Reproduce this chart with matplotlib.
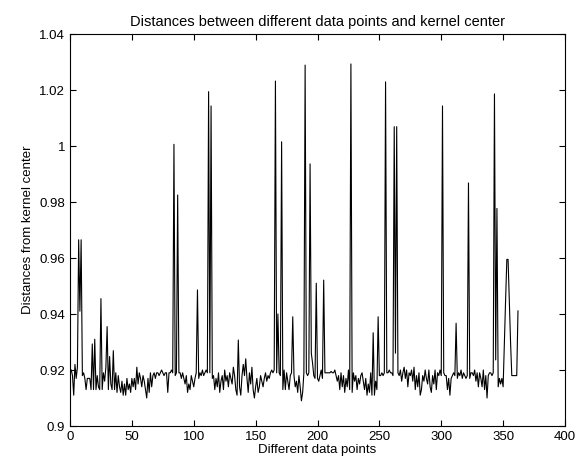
# -*- coding: utf-8 -*-
import matplotlib
matplotlib.use('Agg')
import matplotlib.pyplot as plt
import numpy as np

plt.rcParams['font.family'] = ['Liberation Sans', 'DejaVu Sans']

# distance of each data point (1..362) to the kernel center
distances = [
    0.920, 0.918, 0.911, 0.922, 0.917, 0.921, 0.9665, 0.941, 0.9665, 0.918,
    0.919, 0.917, 0.913, 0.917, 0.917, 0.917, 0.913, 0.9293, 0.913, 0.931,
    0.913, 0.918, 0.914, 0.913, 0.9455, 0.913, 0.919, 0.916, 0.921, 0.9355,
    0.913, 0.9248, 0.915, 0.913, 0.9269, 0.913, 0.919, 0.912, 0.918, 0.914,
    0.912, 0.916, 0.911, 0.915, 0.911, 0.917, 0.913, 0.915, 0.912, 0.917,
    0.914, 0.917, 0.913, 0.921, 0.915, 0.919, 0.917, 0.914, 0.918, 0.916,
    0.913, 0.910, 0.917, 0.912, 0.919, 0.914, 0.918, 0.919, 0.917, 0.919,
    0.919, 0.918, 0.919, 0.920, 0.919, 0.918, 0.919, 0.919, 0.912, 0.919,
    0.919, 0.920, 0.919, 1.0006, 0.918, 0.919, 0.9825, 0.919, 0.919, 0.917,
    0.919, 0.917, 0.915, 0.918, 0.912, 0.915, 0.913, 0.918, 0.916, 0.914,
    0.917, 0.919, 0.9486, 0.917, 0.919, 0.918, 0.920, 0.918, 0.919, 0.920,
    0.919, 1.0194, 0.919, 1.0143, 0.917, 0.918, 0.913, 0.917, 0.914, 0.919,
    0.912, 0.916, 0.918, 0.913, 0.920, 0.916, 0.918, 0.914, 0.919, 0.917,
    0.915, 0.921, 0.918, 0.913, 0.911, 0.9307, 0.914, 0.911, 0.918, 0.922,
    0.918, 0.924, 0.917, 0.912, 0.919, 0.915, 0.921, 0.913, 0.910, 0.914,
    0.917, 0.912, 0.914, 0.918, 0.916, 0.914, 0.917, 0.919, 0.916, 0.918,
    0.917, 0.919, 0.920, 0.919, 0.920, 1.0232, 0.919, 0.940, 0.919, 0.918,
    1.0015, 0.913, 0.920, 0.913, 0.919, 0.916, 0.913, 0.918, 0.919, 0.939,
    0.918, 0.914, 0.916, 0.912, 0.918, 0.914, 0.909, 0.912, 0.919, 1.0289,
    0.919, 0.918, 0.919, 0.9936, 0.926, 0.9225, 0.918, 0.917, 0.951, 0.917,
    0.916, 0.918, 0.920, 0.917, 0.9521, 0.919, 0.919, 0.919, 0.919, 0.919,
    0.9195, 0.919, 0.919, 0.920, 0.918, 0.916, 0.918, 0.913, 0.919, 0.914,
    0.918, 0.912, 0.917, 0.914, 0.920, 0.913, 1.0293, 0.912, 0.919, 0.916,
    0.918, 0.913, 0.917, 0.915, 0.918, 0.919, 0.916, 0.913, 0.917, 0.911,
    0.915, 0.912, 0.919, 0.911, 0.9333, 0.911, 0.916, 0.913, 0.939, 0.918,
    0.918, 0.919, 0.918, 0.919, 1.0229, 0.919, 0.919, 0.920, 0.919, 0.919,
    0.918, 1.0069, 0.926, 1.0069, 0.919, 0.918, 0.920, 0.916, 0.919, 0.921,
    0.917, 0.920, 0.914, 0.919, 0.918, 0.920, 0.916, 0.921, 0.913, 0.918,
    0.914, 0.919, 0.911, 0.913, 0.918, 0.916, 0.920, 0.917, 0.915, 0.920,
    0.914, 0.912, 0.918, 0.915, 0.920, 0.913, 0.919, 0.918, 0.920, 0.918,
    1.0143, 0.919, 0.918, 0.918, 0.913, 0.917, 0.911, 0.917, 0.918, 0.919,
    0.918, 0.9367, 0.917, 0.919, 0.918, 0.920, 0.917, 0.919, 0.918, 0.917,
    0.918, 0.9868, 0.917, 0.919, 0.919, 0.918, 0.920, 0.916, 0.919, 0.914,
    0.919, 0.917, 0.914, 0.920, 0.913, 0.918, 0.910, 0.918, 0.919, 0.919,
    0.918, 0.919, 1.0186, 0.9236, 0.9777, 0.914, 0.917, 0.915, 0.917, 0.914,
    0.930, 0.945, 0.9595, 0.9595, 0.945, 0.930, 0.918, 0.918, 0.918, 0.918,
    0.918, 0.9411,
]
points = np.arange(1, len(distances) + 1)

x_ticks = [0, 50, 100, 150, 200, 250, 300, 350, 400]
y_ticks = [0.9, 0.92, 0.94, 0.96, 0.98, 1.0, 1.02, 1.04]
y_labels = ['0.9', '0.92', '0.94', '0.96', '0.98', '1', '1.02', '1.04']

fig = plt.figure(figsize=(5.87, 4.65), dpi=100)
ax = fig.add_axes([70 / 587, 1 - 426 / 465, 495 / 587, 392 / 465])
ax.plot(points, distances, color='black', linewidth=0.8)

ax.set_xlim(0, 400)
ax.set_ylim(0.9, 1.04)
ax.set_xticks(x_ticks)
ax.set_yticks(y_ticks)
ax.set_yticklabels(y_labels)
ax.tick_params(direction='in', top=True, right=True, length=4, labelsize=9.5, width=0.8)
for sp in ax.spines.values():
    sp.set_linewidth(0.8)

ax.set_xlabel('Different data points', fontsize=9.5, labelpad=1)
ax.set_ylabel('Distances from kernel center', fontsize=9.5, labelpad=4)
ax.set_title('Distances between different data points and kernel center', fontsize=10.5, pad=6)

fig.savefig('out.png', dpi=100)
